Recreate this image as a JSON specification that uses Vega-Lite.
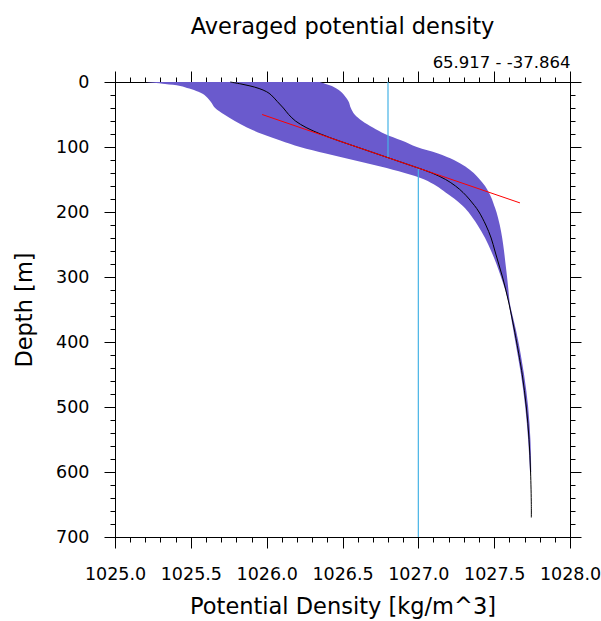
{
  "$schema": "https://vega.github.io/schema/vega-lite/v6.json",
  "width": 455,
  "height": 455,
  "autosize": "none",
  "padding": {"left": 115, "top": 82, "right": 31, "bottom": 84},
  "background": "white",
  "config": {
    "view": {"stroke": null},
    "axis": {
      "grid": false,
      "domainColor": "black",
      "domainWidth": 1,
      "tickColor": "black",
      "tickWidth": 1,
      "labelColor": "black",
      "labelFont": "DejaVu Sans",
      "titleFont": "DejaVu Sans",
      "titleColor": "black",
      "titleFontWeight": "normal",
      "labelFlush": false,
      "labelOverlap": false,
      "labelBound": false
    }
  },
  "title": {
    "text": "Averaged potential density",
    "fontSize": 22.5,
    "font": "DejaVu Sans",
    "fontWeight": "normal",
    "color": "black",
    "anchor": "middle",
    "frame": "group",
    "offset": 16
  },
  "datasets": {
    "profile": [
      {"depth": 0, "lo": 1025.20, "mean": 1025.76, "hi": 1026.35},
      {"depth": 3, "lo": 1025.33, "mean": 1025.83, "hi": 1026.39},
      {"depth": 6, "lo": 1025.43, "mean": 1025.89, "hi": 1026.43},
      {"depth": 10, "lo": 1025.49, "mean": 1025.95, "hi": 1026.46},
      {"depth": 15, "lo": 1025.55, "mean": 1026.00, "hi": 1026.49},
      {"depth": 20, "lo": 1025.59, "mean": 1026.03, "hi": 1026.51},
      {"depth": 30, "lo": 1025.63, "mean": 1026.07, "hi": 1026.54},
      {"depth": 40, "lo": 1025.66, "mean": 1026.11, "hi": 1026.555},
      {"depth": 50, "lo": 1025.72, "mean": 1026.145, "hi": 1026.58},
      {"depth": 60, "lo": 1025.79, "mean": 1026.19, "hi": 1026.63},
      {"depth": 70, "lo": 1025.87, "mean": 1026.26, "hi": 1026.70},
      {"depth": 80, "lo": 1025.97, "mean": 1026.355, "hi": 1026.78},
      {"depth": 90, "lo": 1026.09, "mean": 1026.47, "hi": 1026.89},
      {"depth": 100, "lo": 1026.22, "mean": 1026.595, "hi": 1026.99},
      {"depth": 110, "lo": 1026.39, "mean": 1026.72, "hi": 1027.13},
      {"depth": 120, "lo": 1026.57, "mean": 1026.845, "hi": 1027.235},
      {"depth": 130, "lo": 1026.75, "mean": 1026.97, "hi": 1027.31},
      {"depth": 140, "lo": 1026.91, "mean": 1027.09, "hi": 1027.365},
      {"depth": 150, "lo": 1027.04, "mean": 1027.18, "hi": 1027.405},
      {"depth": 160, "lo": 1027.12, "mean": 1027.245, "hi": 1027.44},
      {"depth": 170, "lo": 1027.18, "mean": 1027.295, "hi": 1027.465},
      {"depth": 180, "lo": 1027.24, "mean": 1027.335, "hi": 1027.485},
      {"depth": 190, "lo": 1027.29, "mean": 1027.37, "hi": 1027.50},
      {"depth": 200, "lo": 1027.33, "mean": 1027.40, "hi": 1027.515},
      {"depth": 220, "lo": 1027.39, "mean": 1027.445, "hi": 1027.537},
      {"depth": 240, "lo": 1027.44, "mean": 1027.48, "hi": 1027.553},
      {"depth": 260, "lo": 1027.48, "mean": 1027.505, "hi": 1027.565},
      {"depth": 280, "lo": 1027.515, "mean": 1027.53, "hi": 1027.575},
      {"depth": 300, "lo": 1027.545, "mean": 1027.555, "hi": 1027.585},
      {"depth": 320, "lo": 1027.573, "mean": 1027.577, "hi": 1027.594},
      {"depth": 340, "lo": 1027.595, "mean": 1027.597, "hi": 1027.603},
      {"depth": 360, "lo": 1027.61, "mean": 1027.615, "hi": 1027.622},
      {"depth": 380, "lo": 1027.625, "mean": 1027.632, "hi": 1027.642},
      {"depth": 400, "lo": 1027.64, "mean": 1027.648, "hi": 1027.66},
      {"depth": 450, "lo": 1027.677, "mean": 1027.685, "hi": 1027.697},
      {"depth": 500, "lo": 1027.705, "mean": 1027.712, "hi": 1027.724},
      {"depth": 550, "lo": 1027.724, "mean": 1027.73, "hi": 1027.739},
      {"depth": 600, "lo": 1027.737, "mean": 1027.74, "hi": 1027.745},
      {"depth": 650, "lo": null, "mean": 1027.745, "hi": null},
      {"depth": 670, "lo": null, "mean": 1027.745, "hi": null}
    ],
    "fit": [
      {"density": 1025.97, "depth": 50},
      {"density": 1027.67, "depth": 186}
    ],
    "mld": [
      {"density": 1026.8, "top": 0, "bottom": 116},
      {"density": 1027.0, "top": 132, "bottom": 700}
    ]
  },
  "resolve": {"axis": {"x": "independent", "y": "independent"}},
  "layer": [
    {
      "data": {"name": "profile"},
      "mark": {"type": "area", "orient": "horizontal", "color": "#6a5acd", "opacity": 1, "interpolate": "catmull-rom"},
      "encoding": {
        "x": {
          "field": "lo", "type": "quantitative",
          "scale": {"domain": [1025, 1028], "nice": false, "zero": false},
          "axis": {
            "orient": "bottom",
            "values": [1025, 1025.5, 1026, 1026.5, 1027, 1027.5, 1028],
            "format": ".1f",
            "tickSize": 11,
            "labelFontSize": 17.5,
            "labelPadding": 17,
            "title": "Potential Density [kg/m^3]",
            "titleFontSize": 22.5,
            "titlePadding": 13
          }
        },
        "x2": {"field": "hi"},
        "y": {
          "field": "depth", "type": "quantitative",
          "scale": {"domain": [0, 700], "nice": false, "zero": false, "reverse": true},
          "axis": {
            "orient": "left",
            "values": [0, 100, 200, 300, 400, 500, 600, 700],
            "tickSize": 11,
            "labelFontSize": 17.5,
            "labelPadding": 15,
            "title": "Depth [m]",
            "titleFontSize": 22.5,
            "titlePadding": 19
          }
        }
      }
    },
    {
      "data": {"name": "mld"},
      "mark": {"type": "rule", "color": "#45b3e6", "strokeWidth": 1.2},
      "encoding": {
        "x": {
          "field": "density", "type": "quantitative",
          "scale": {"domain": [1025, 1028], "nice": false, "zero": false},
          "axis": {
            "orient": "bottom",
            "values": [1025, 1025.1, 1025.2, 1025.3, 1025.4, 1025.5, 1025.6, 1025.7, 1025.8, 1025.9, 1026, 1026.1, 1026.2, 1026.3, 1026.4, 1026.5, 1026.6, 1026.7, 1026.8, 1026.9, 1027, 1027.1, 1027.2, 1027.3, 1027.4, 1027.5, 1027.6, 1027.7, 1027.8, 1027.9, 1028],
            "tickSize": 5,
            "labels": false,
            "title": null
          }
        },
        "y": {
          "field": "top", "type": "quantitative",
          "scale": {"domain": [0, 700], "nice": false, "zero": false, "reverse": true},
          "axis": {
            "orient": "left",
            "values": [0, 20, 40, 60, 80, 100, 120, 140, 160, 180, 200, 220, 240, 260, 280, 300, 320, 340, 360, 380, 400, 420, 440, 460, 480, 500, 520, 540, 560, 580, 600, 620, 640, 660, 680, 700],
            "tickSize": 5,
            "labels": false,
            "title": null
          }
        },
        "y2": {"field": "bottom"}
      }
    },
    {
      "data": {"name": "profile"},
      "mark": {"type": "line", "color": "black", "strokeWidth": 1, "interpolate": "catmull-rom"},
      "encoding": {
        "x": {
          "field": "mean", "type": "quantitative",
          "scale": {"domain": [1025, 1028], "nice": false, "zero": false},
          "axis": {
            "orient": "top",
            "values": [1025, 1025.1, 1025.2, 1025.3, 1025.4, 1025.5, 1025.6, 1025.7, 1025.8, 1025.9, 1026, 1026.1, 1026.2, 1026.3, 1026.4, 1026.5, 1026.6, 1026.7, 1026.8, 1026.9, 1027, 1027.1, 1027.2, 1027.3, 1027.4, 1027.5, 1027.6, 1027.7, 1027.8, 1027.9, 1028],
            "tickSize": 5,
            "labels": false,
            "title": null
          }
        },
        "y": {
          "field": "depth", "type": "quantitative",
          "scale": {"domain": [0, 700], "nice": false, "zero": false, "reverse": true},
          "axis": {
            "orient": "right",
            "values": [0, 20, 40, 60, 80, 100, 120, 140, 160, 180, 200, 220, 240, 260, 280, 300, 320, 340, 360, 380, 400, 420, 440, 460, 480, 500, 520, 540, 560, 580, 600, 620, 640, 660, 680, 700],
            "tickSize": 5,
            "labels": false,
            "title": null
          }
        },
        "order": {"field": "depth", "type": "quantitative"}
      }
    },
    {
      "data": {"name": "fit"},
      "mark": {"type": "line", "color": "#ff0000", "strokeWidth": 1},
      "encoding": {
        "x": {
          "field": "density", "type": "quantitative",
          "scale": {"domain": [1025, 1028], "nice": false, "zero": false},
          "axis": {
            "orient": "top",
            "values": [1025, 1025.5, 1026, 1026.5, 1027, 1027.5, 1028],
            "tickSize": 11,
            "labels": false,
            "title": "65.917 - -37.864",
            "titleFontSize": 16.5,
            "titleAnchor": "end",
            "titleAlign": "right",
            "titlePadding": 0
          }
        },
        "y": {
          "field": "depth", "type": "quantitative",
          "scale": {"domain": [0, 700], "nice": false, "zero": false, "reverse": true},
          "axis": {
            "orient": "right",
            "values": [0, 100, 200, 300, 400, 500, 600, 700],
            "tickSize": 11,
            "labels": false,
            "title": null
          }
        }
      }
    }
  ]
}
